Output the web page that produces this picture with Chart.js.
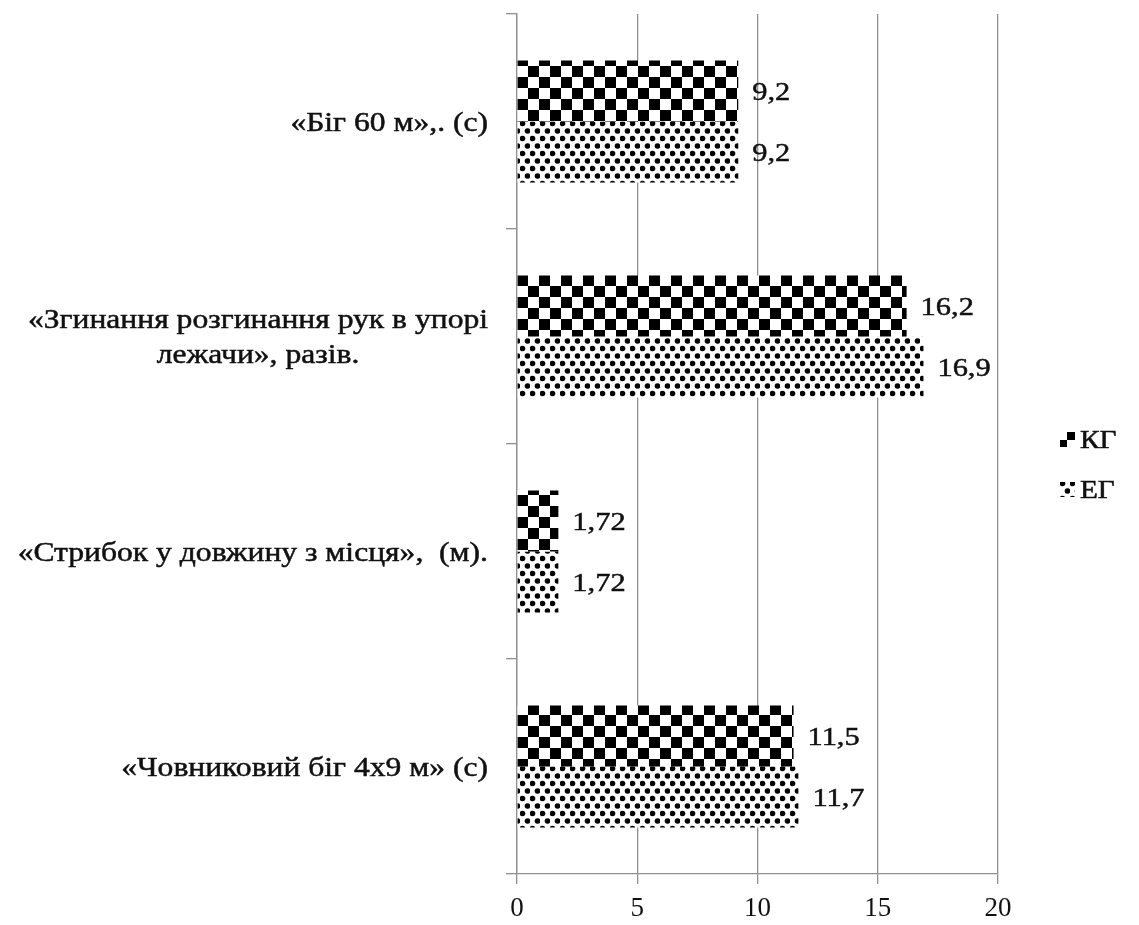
<!DOCTYPE html>
<html>
<head>
<meta charset="utf-8">
<script src="https://cdn.jsdelivr.net/npm/chart.js@4.4.1/dist/chart.umd.min.js"></script>
<style>
  html, body { margin: 0; padding: 0; background: #fff; }
  #wrap { width: 1139px; height: 925px; }
</style>
</head>
<body>
<div id="wrap"><canvas id="chart" width="1139" height="925"></canvas></div>
<script>
// categories, top to bottom
var categories = [
    ["«Біг 60 м»,. (с)"],
    ["«Згинання розгинання рук в упорі", "лежачи», разів."],
    ["«Стрибок у довжину з місця»,  (м)."],
    ["«Човниковий біг 4х9 м» (с)"]
];
var series_names = ["КГ", "ЕГ"];
var kg_values = [9.2, 16.2, 1.72, 11.5];
var eg_values = [9.2, 16.9, 1.72, 11.7];
var x_ticks = [0, 5, 10, 15, 20];

var FONT = "'Liberation Serif', 'Times New Roman', serif";
var TEXT_COLOR = "#111";
var GRID_COLOR = "#8f8f8f";
var STRETCH = 1.17; // the original text is a bit wider than it is tall

function make_checker() {
    var c = document.createElement("canvas");
    c.width = 22; c.height = 22;
    var g = c.getContext("2d");
    g.fillStyle = "#fff";
    g.fillRect(0, 0, 22, 22);
    g.fillStyle = "#000";
    g.fillRect(0, 0, 11, 11);
    g.fillRect(11, 11, 11, 11);
    return g.createPattern(c, "repeat");
}

function make_dots() {
    var c = document.createElement("canvas");
    c.width = 10; c.height = 15;
    var g = c.getContext("2d");
    g.fillStyle = "#fff";
    g.fillRect(0, 0, 10, 15);
    g.fillStyle = "#000";
    g.beginPath(); g.arc(2.5, 3.5, 2.8, 0, Math.PI * 2); g.fill();
    g.beginPath(); g.arc(7.5, 11, 2.8, 0, Math.PI * 2); g.fill();
    return g.createPattern(c, "repeat");
}

var ctx = document.getElementById("chart").getContext("2d");
var fills = [make_checker(), make_dots()];

var fmt = function(v) {
    return String(v).replace(".", ",");
};

// draw text stretched horizontally, anchored at x
function wide_text(c, txt, x, y, align) {
    var w = c.measureText(txt).width * STRETCH;
    var left = align === "center" ? x - w / 2 : (align === "right" ? x - w : x);
    c.save();
    c.translate(left, y);
    c.scale(STRETCH, 1);
    c.textAlign = "left";
    c.lineWidth = 0.5;
    c.strokeStyle = c.fillStyle;
    c.fillText(txt, 0, 0);
    c.strokeText(txt, 0, 0);
    c.restore();
}

// value labels right of each bar
var value_labels = {
    id: "value_labels",
    afterDatasetsDraw: function(chart) {
        var c = chart.ctx;
        c.save();
        c.font = "26px " + FONT;
        c.fillStyle = TEXT_COLOR;
        c.textBaseline = "middle";
        chart.data.datasets.forEach(function(ds, i) {
            chart.getDatasetMeta(i).data.forEach(function(bar, j) {
                wide_text(c, fmt(ds.data[j]), bar.x + 14, bar.y + 2, "left");
            });
        });
        c.restore();
    }
};

// category labels: block right-aligned, lines centred inside the block
var category_labels = {
    id: "category_labels",
    afterDraw: function(chart) {
        var c = chart.ctx, y = chart.scales.y;
        var line_h = 35, right = y.right - 29;
        c.save();
        c.font = "27px " + FONT;
        c.fillStyle = TEXT_COLOR;
        c.textBaseline = "middle";
        categories.forEach(function(lines, i) {
            var w = Math.max.apply(null, lines.map(function(l) { return c.measureText(l).width * STRETCH; }));
            var cx = right - w / 2;
            var cy = y.getPixelForTick(i) - (lines.length - 1) * line_h / 2 + 2;
            lines.forEach(function(l, k) {
                wide_text(c, l, cx, cy + k * line_h, "center");
            });
        });
        c.restore();
    }
};

var side_legend = {
    id: "side_legend",
    afterDraw: function(chart) {
        var c = chart.ctx, a = chart.chartArea;
        var x = a.right + 62, y0 = (a.top + a.bottom) / 2 - 4;
        c.save();
        c.font = "25px " + FONT;
        c.textBaseline = "middle";
        chart.data.datasets.forEach(function(ds, i) {
            var cy = y0 + i * 50;
            c.fillStyle = ds.backgroundColor;
            c.fillRect(x, cy - 8, 15, 15);
            c.fillStyle = TEXT_COLOR;
            wide_text(c, ds.label, x + 20, cy + 1, "left");
        });
        c.restore();
    }
};

new Chart(ctx, {
    type: "bar",
    data: {
        labels: categories,
        datasets: [
            { label: series_names[0], data: kg_values, backgroundColor: fills[0] },
            { label: series_names[1], data: eg_values, backgroundColor: fills[1] }
        ]
    },
    options: {
        indexAxis: "y",
        responsive: false,
        animation: false,
        events: [],
        layout: { padding: { top: 14, right: 141, bottom: 0, left: 0 } },
        datasets: { bar: { categoryPercentage: 0.567, barPercentage: 1.0, borderWidth: 0 } },
        plugins: {
            legend: { display: false },
            tooltip: { enabled: false }
        },
        scales: {
            x: {
                min: x_ticks[0],
                max: x_ticks[x_ticks.length - 1],
                afterBuildTicks: function(scale) {
                    scale.ticks = x_ticks.map(function(v) { return { value: v }; });
                },
                afterFit: function(scale) { scale.height = 51; },
                grid: { color: GRID_COLOR, lineWidth: 1.3, tickLength: 10, drawTicks: true },
                border: { display: true, color: GRID_COLOR, width: 1.3 },
                ticks: { color: TEXT_COLOR, font: { family: FONT, size: 27 }, padding: 9, maxRotation: 0 }
            },
            y: {
                offset: true,
                afterFit: function(scale) { scale.width = 517; },
                grid: { drawOnChartArea: false, drawTicks: true, tickLength: 11, color: GRID_COLOR, lineWidth: 1.3, offset: true },
                border: { display: true, color: GRID_COLOR, width: 1.3 },
                ticks: { display: false }
            }
        }
    },
    plugins: [value_labels, category_labels, side_legend]
});
</script>
</body>
</html>
